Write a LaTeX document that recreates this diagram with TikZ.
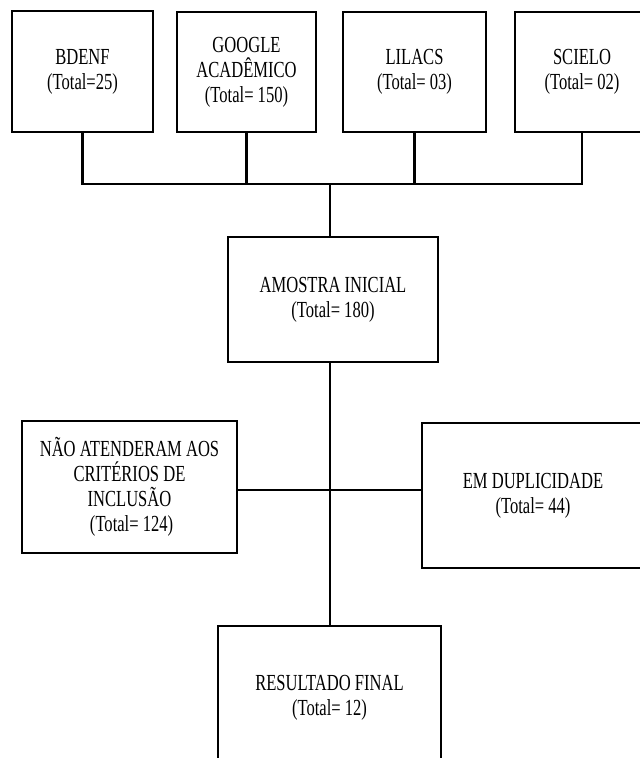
\documentclass[tikz,border=0pt]{standalone}
\usepackage{fontspec}
\setmainfont{Liberation Serif}[FakeStretch=0.72]
\usetikzlibrary{positioning, calc}

\begin{document}
\begin{tikzpicture}[x=1pt, y=1pt]

        % Define styles for each type of node
        \tikzstyle{box} = [rectangle, inner sep=0pt, align=center, text centered, draw=black, line width=1.8pt, font=\fontsize{23}{25}\selectfont]
        \tikzstyle{source} = [box, minimum height=120pt]

        % Define line style
        \tikzstyle{link} = [line width=2.8pt]

        \useasboundingbox (0,0) rectangle (640,-758);
        \clip (0,0) rectangle (640,-758);

        % Nodes
        \node (bdenf) [source, minimum width=141pt, minimum height=121pt] at (82.5,-71.5) {BDENF\\(Total=25)};
        \node (google) [source, minimum width=139pt] at (246.5,-72) {GOOGLE\\ACADÊMICO\\(Total= 150)};
        \node (lilacs) [source, minimum width=143pt] at (414.5,-72) {LILACS\\(Total= 03)};
        \node (scielo) [source, minimum width=134pt] at (582,-72) {SCIELO\\(Total= 02)};

        % Amostra e exclusões
        \node (amostraInicial) [box, minimum width=210pt, minimum height=125pt] at (333,-299.5) {AMOSTRA INICIAL\\(Total= 180)};
        \node (criterios) [box, minimum width=215pt, minimum height=132pt] at (129.5,-487) {NÃO ATENDERAM AOS\\CRITÉRIOS DE\\INCLUSÃO\\\ (Total= 124)};
        \node (duplicidade) [box, minimum width=222pt, minimum height=145pt] at (533,-495.5) {EM DUPLICIDADE\\(Total= 44)};
        \node (resultadoFinal) [box, minimum width=223pt, minimum height=144pt] at (329.5,-698) {RESULTADO FINAL\\(Total= 12)};

        % Junction points
        \coordinate (bar) at (330,-184);
        \coordinate (cross) at (330,-490);

        % Lines
        \draw [link] (bdenf) -- (bdenf |- bar) -- (scielo |- bar) -- (scielo);
        \draw [link] (google) -- (google |- bar);
        \draw [link] (lilacs) -- (lilacs |- bar);
        \draw [link] (bar) -- (amostraInicial.north -| bar);

        % Continuação do fluxo
        \draw [link] (amostraInicial.south -| cross) -- (resultadoFinal.north -| cross);
        \draw [link] (criterios.east |- cross) -- (duplicidade.west |- cross);

    \end{tikzpicture}
\end{document}
